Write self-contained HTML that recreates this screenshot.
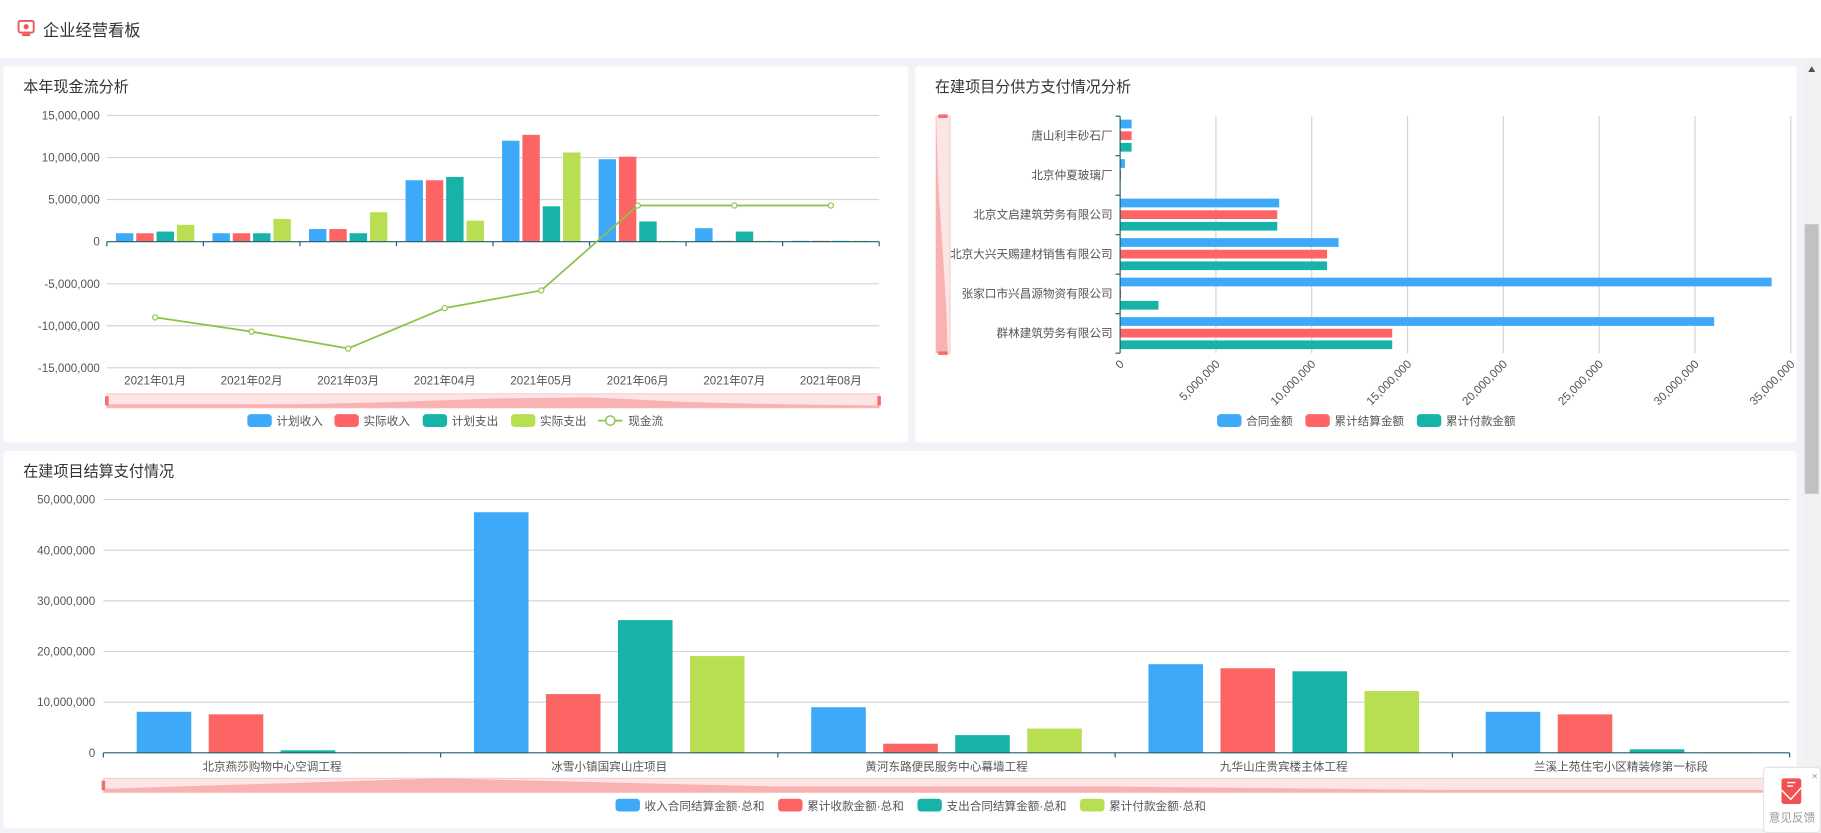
<!DOCTYPE html>
<html><head><meta charset="utf-8">
<style>
html,body{margin:0;padding:0;width:1821px;height:833px;overflow:hidden;background:#f0f3f7;}
svg{display:block;font-family:"Liberation Sans","Noto Sans CJK SC",sans-serif;}
</style></head>
<body>
<svg id="s" width="1821" height="833" viewBox="0 0 1568 717" preserveAspectRatio="none" xmlns="http://www.w3.org/2000/svg">
<rect x="0" y="0" width="1568" height="717" fill="#f0f3f7"/>
<rect x="0" y="0" width="1568" height="50" fill="#fff"/>
<g>
<rect x="16" y="18" width="13" height="10" rx="1.5" fill="none" stroke="#f05656" stroke-width="1.6"/>
<rect x="19" y="29" width="7" height="2" fill="#f05656"/>
<circle cx="22.5" cy="23" r="2.2" fill="#f05656"/>
</g>
<text x="37" y="31" font-size="14" fill="#333">企业经营看板</text>
<rect x="3" y="57" width="779" height="324" rx="3" fill="#fff"/>
<rect x="788" y="57" width="759" height="324" rx="3" fill="#fff"/>
<rect x="3" y="388" width="1544" height="325" rx="3" fill="#fff"/>
<text x="20" y="79" font-size="13" fill="#333">本年现金流分析</text>
<text x="805" y="79" font-size="13" fill="#333">在建项目分供方支付情况分析</text>
<text x="20" y="410" font-size="13" fill="#333">在建项目结算支付情况</text>
<!-- scrollbar -->
<rect x="1552" y="50" width="16" height="667" fill="#f1f1f1"/>
<rect x="1554" y="193" width="12" height="232" fill="#c1c1c1"/>
<path d="M1557 62 L1563 62 L1560 57 Z" fill="#505050"/>
<g id="c1"></g><g id="c2"></g><g id="c3"></g>
<!-- feedback -->
<rect x="1518.5" y="660.5" width="49" height="56" rx="3" fill="#fff" stroke="#e4e4e4"/>
<text x="1560" y="671" font-size="9" fill="#999">×</text>
<rect x="1534" y="670" width="17" height="22" rx="2" fill="#f05252"/>
<path d="M1534 680 L1542 688 L1551 678" stroke="#fff" stroke-width="1.2" fill="none"/>
<rect x="1539" y="673" width="7" height="1.2" fill="#fff"/><rect x="1539" y="676" width="5" height="1.2" fill="#fff"/>
<text x="1543" y="707" font-size="10" fill="#999" text-anchor="middle">意见反馈</text>
</svg>
<script>
const NS="http://www.w3.org/2000/svg";
function el(p,t,a,txt){const e=document.createElementNS(NS,t);for(const k in a)e.setAttribute(k,a[k]);if(txt!=null)e.textContent=txt;p.appendChild(e);return e;}
const B="#3ea9f8",R="#fd6565",T="#17b3a9",G="#b8df52",L="#8bc34a",AX="#1f5f6e";
function fmt(v){return v.toLocaleString('en-US');}
// chart 1
(function(){
const g=document.getElementById('c1');
const x0=92,x1=757,y0=208,k=7.24;
for(let v=-15;v<=15;v+=5){const y=y0-v*k;if(v!==0)el(g,'line',{x1:x0,x2:x1,y1:y,y2:y,stroke:'#d4d4d4','stroke-width':1});
el(g,'text',{x:86,y:y+3.5,'font-size':10,fill:'#555','text-anchor':'end'},fmt(v*1000000));}
const d=[[1,1,1.2,2],[1,1,1,2.7],[1.5,1.5,1,3.5],[7.3,7.3,7.7,2.5],[12,12.7,4.2,10.6],[9.8,10.1,2.4,0.1],[1.6,0.1,1.2,0.1],[0.1,0.1,0.1,0.1]];
const line=[-9,-10.7,-12.7,-7.9,-5.8,4.3,4.3,4.3];
const w=(x1-x0)/8,cols=[B,R,T,G],off=[-26.25,-8.75,8.75,26.25];
d.forEach((r,i)=>{const c=x0+w*(i+0.5);r.forEach((v,j)=>{el(g,'rect',{x:c+off[j]-7.5,y:y0-v*k,width:15,height:v*k,fill:cols[j]});});
el(g,'text',{x:c,y:331,'font-size':10,fill:'#555','text-anchor':'middle'},'2021年0'+(i+1)+'月');});
el(g,'line',{x1:x0,x2:x1,y1:y0,y2:y0,stroke:AX,'stroke-width':1});
for(let i=0;i<=8;i++)el(g,'line',{x1:x0+w*i,x2:x0+w*i,y1:y0,y2:y0+4,stroke:AX});
let pts=line.map((v,i)=>(x0+w*(i+0.5))+','+(y0-v*k)).join(' ');
el(g,'polyline',{points:pts,fill:'none',stroke:L,'stroke-width':1.5});
line.forEach((v,i)=>el(g,'circle',{cx:x0+w*(i+0.5),cy:y0-v*k,r:2.2,fill:'#fff',stroke:L,'stroke-width':1}));
// slider
el(g,'rect',{x:x0,y:339,width:x1-x0,height:12,fill:'#fde5e5',stroke:'#f3cfcf'});
el(g,'path',{d:'M92 351 L92 348 L175 348 L258 348 L342 346 L425 343 L508 342 L591 346 L674 348 L757 349 L757 351 Z',fill:'#f9b1b1'});
[x0,x1].forEach(x=>el(g,'rect',{x:x-1.5,y:341,width:3,height:8,fill:'#f36b6b'}));
// legend
const lg=[[213,'计划收入',B],[288,'实际收入',R],[364,'计划支出',T],[440,'实际支出',G]];
lg.forEach(a=>{el(g,'rect',{x:a[0],y:356.5,width:21,height:11,rx:3,fill:a[2]});el(g,'text',{x:a[0]+25,y:366,'font-size':10,fill:'#555'},a[1]);});
el(g,'line',{x1:515,x2:536,y1:362,y2:362,stroke:L,'stroke-width':1.5});
el(g,'circle',{cx:525.5,cy:362,r:4,fill:'#fff',stroke:L,'stroke-width':1.2});
el(g,'text',{x:541,y:366,'font-size':10,fill:'#555'},'现金流');
})();
// chart 2
(function(){
const g=document.getElementById('c2');
const x0=964.5,k=16.5,y0=100,bh=34;
for(let i=0;i<=7;i++){const x=x0+i*82.5;if(i>0)el(g,'line',{x1:x,x2:x,y1:y0,y2:y0+204,stroke:'#d4d4d4'});
const t=el(g,'text',{x:x+4,y:314,'font-size':10,fill:'#555','text-anchor':'end',transform:'rotate(-45 '+(x+4)+' 314)'},fmt(i*5000000));}
const names=['唐山利丰砂石厂','北京仲夏玻璃厂','北京文启建筑劳务有限公司','北京大兴天赐建材销售有限公司','张家口市兴昌源物资有限公司','群林建筑劳务有限公司'];
const d=[[0.6,0.6,0.6],[0.25,0.05,0],[8.3,8.2,8.2],[11.4,10.8,10.8],[34,0.05,2],[31,14.2,14.2]];
const cols=[B,R,T];
d.forEach((r,i)=>{const t=y0+i*bh;r.forEach((v,j)=>{if(v>0)el(g,'rect',{x:x0,y:t+3+j*10,width:v*k,height:7.5,fill:cols[j]});});
el(g,'text',{x:958,y:t+20,'font-size':10,fill:'#555','text-anchor':'end'},names[i]);});
el(g,'line',{x1:x0,x2:x0,y1:y0,y2:y0+204,stroke:AX});
for(let i=0;i<=6;i++)el(g,'line',{x1:x0-4,x2:x0,y1:y0+i*bh,y2:y0+i*bh,stroke:AX});
// vertical slider
el(g,'rect',{x:806,y:100,width:12,height:204,fill:'#fde5e5',stroke:'#f3cfcf'});
el(g,'path',{d:'M806 100 L806 304 L816 304 L815 270 L812 220 L808 160 L806 100 Z',fill:'#f9b1b1'});
[100,304].forEach(y=>el(g,'rect',{x:808,y:y-1.5,width:8,height:3,fill:'#f36b6b'}));
const lg=[[1048,'合同金额',B],[1124,'累计结算金额',R],[1220,'累计付款金额',T]];
lg.forEach(a=>{el(g,'rect',{x:a[0],y:356.5,width:21,height:11,rx:3,fill:a[2]});el(g,'text',{x:a[0]+25,y:366,'font-size':10,fill:'#555'},a[1]);});
})();
// chart 3
(function(){
const g=document.getElementById('c3');
const x0=89,x1=1541,y0=648,k=4.36;
for(let v=0;v<=50;v+=10){const y=y0-v*k;if(v)el(g,'line',{x1:x0,x2:x1,y1:y,y2:y,stroke:'#d4d4d4'});
el(g,'text',{x:82,y:y+3.5,'font-size':10,fill:'#555','text-anchor':'end'},fmt(v*1000000));}
const names=['北京燕莎购物中心空调工程','冰雪小镇国宾山庄项目','黄河东路便民服务中心幕墙工程','九华山庄贵宾楼主体工程','兰溪上苑住宅小区精装修第一标段'];
const d=[[8.1,7.6,0.5,0.1],[47.5,11.6,26.2,19.1],[9,1.8,3.5,4.8],[17.5,16.7,16.1,12.2],[8.1,7.6,0.7,0.1]];
const w=(x1-x0)/5,cols=[B,R,T,G],off=[-93,-31,31,93];
d.forEach((r,i)=>{const c=x0+w*(i+0.5);r.forEach((v,j)=>el(g,'rect',{x:c+off[j]-23.5,y:y0-v*k,width:47,height:v*k,fill:cols[j]}));
el(g,'text',{x:c,y:663,'font-size':10,fill:'#555','text-anchor':'middle'},names[i]);});
el(g,'line',{x1:x0,x2:x1,y1:y0,y2:y0,stroke:AX});
for(let i=0;i<=5;i++)el(g,'line',{x1:x0+w*i,x2:x0+w*i,y1:y0,y2:y0+4,stroke:AX});
el(g,'rect',{x:x0,y:670,width:x1-x0,height:12,fill:'#fde5e5',stroke:'#f3cfcf'});
el(g,'path',{d:'M89 682 L89 679 L380 670 L670 677 L960 677 L1250 680 L1541 680 L1541 682 Z',fill:'#f9b1b1'});
[x0,x1].forEach(x=>el(g,'rect',{x:x-1.5,y:672,width:3,height:8,fill:'#f36b6b'}));
const lg=[[530,'收入合同结算金额·总和',B],[670,'累计收款金额·总和',R],[790,'支出合同结算金额·总和',T],[930,'累计付款金额·总和',G]];
lg.forEach(a=>{el(g,'rect',{x:a[0],y:687.5,width:21,height:11,rx:3,fill:a[2]});el(g,'text',{x:a[0]+25,y:697,'font-size':10,fill:'#555'},a[1]);});
})();
</script>
</body></html>
